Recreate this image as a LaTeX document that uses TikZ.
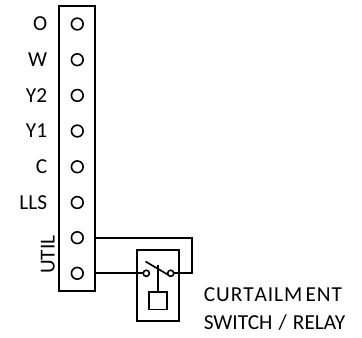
\documentclass[tikz,border=0pt]{standalone}
\usepackage{fontspec}
\setmainfont{Carlito}
\begin{document}
\begin{tikzpicture}[x=0.75pt,y=-0.75pt,line width=1.25pt,line join=miter,
  terminal/.style={circle,draw,inner sep=0pt,outer sep=0pt,minimum size=8.8pt,line width=1.2pt},
  contact/.style={circle,draw,inner sep=0pt,outer sep=0pt,minimum size=4.6pt,line width=1.2pt},
  lab/.style={font=\fontsize{16pt}{18pt}\selectfont,inner sep=0pt},
  box/.style={draw,inner sep=0pt,outer sep=0pt,anchor=north west}]
\useasboundingbox (0,0) rectangle (362,337);
\node[box,minimum width=26.8pt,minimum height=213.5pt] (strip) at (59.3,6) {};
\foreach \n/\y in {o/24,w/59.7,yb/95.4,ya/131,c/166.8,lls/202.5,util/237.7,ret/273.3}
  \node[terminal] (t\n) at (77.3,\y) {};
\foreach \n/\t/\y in {o/O/30.5,w/W/66.2,yb/Y2/102,ya/Y1/137.5,c/C/173.3,lls/LLS/209}
  \node[lab,anchor=base east] (l\n) at (48,\y) {\t};
\node[lab,rotate=90,anchor=base] (lutil) at (54.5,254.5) {UTIL};
\node[box,minimum width=31.5pt,minimum height=53.25pt] (relay) at (137.3,250) {};
\node[box,minimum width=13.5pt,minimum height=13pt] (coil) at (149.3,292) {};
\node[contact] (ca) at (146.3,273.3) {};
\node[contact] (cb) at (170.7,273.3) {};
\coordinate (bladeA) at (145.5,261.5);
\coordinate (bladeB) at (168.5,275);
\coordinate (stemtop) at (158.3,265);
\coordinate (corner1) at (191.7,237.7);
\coordinate (corner2) at (191.7,273.3);
\draw (bladeA) -- (bladeB);
\draw (stemtop) -- (coil.north);
\draw (strip.east |- tutil) -- (corner1) -- (corner2) -- (cb);
\draw (strip.east |- tret) -- (ca);
\node[lab,anchor=base west] (cap1) at (203,301.5) {C\kern.7pt U\kern.7pt R\kern.7pt T\kern.7pt A\kern.7pt I\kern.7pt L\kern.7pt M\kern2.4pt E\kern.7pt N\kern.7pt T};
\node[lab,anchor=base west] (cap2) at (203,329) {SWITCH\kern1pt{} /\kern1pt{} RELAY};
\end{tikzpicture}
\end{document}
